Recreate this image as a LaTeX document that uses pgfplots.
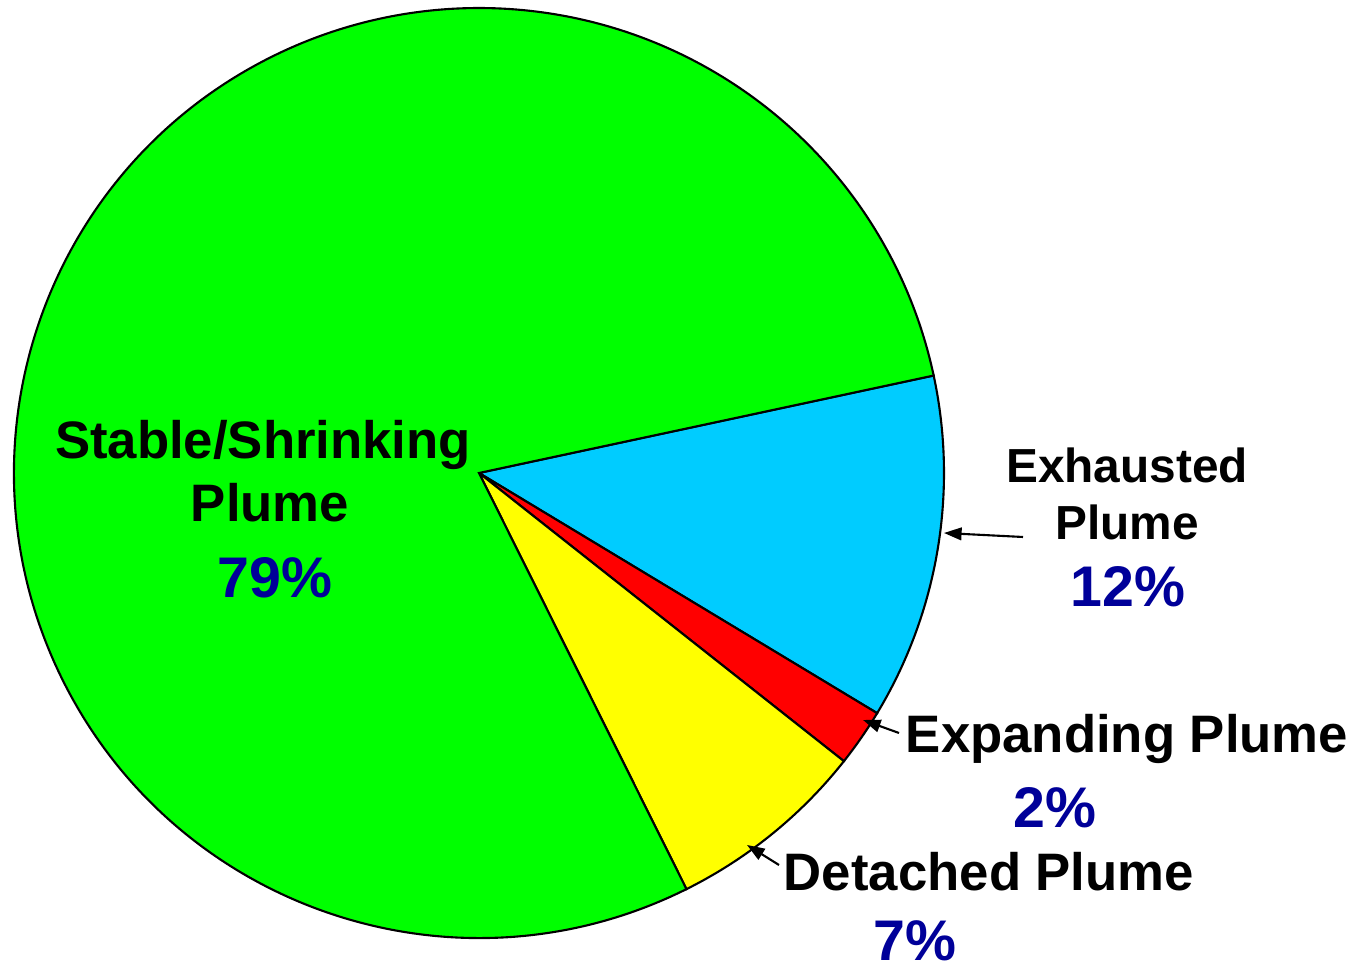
\documentclass[border=0pt]{standalone}
\usepackage{pgfplots}
\pgfplotsset{compat=1.18}
\usepackage{pgfplotstable}
\usetikzlibrary{arrows.meta}
\usepackage{fontspec}
\setmainfont{Liberation Sans}
\definecolor{cGreen}{RGB}{0,255,0}
\definecolor{cCyan}{RGB}{0,204,255}
\definecolor{cRed}{RGB}{255,0,0}
\definecolor{cYellow}{RGB}{255,255,0}
\definecolor{cNavy}{RGB}{0,0,153}
% pie shares (percent), clockwise from the start angle
\pgfplotstableread{
label value
Exhausted 12
Expanding 2
Detached 7
Stable 79
}\piedata
\pgfplotstablegetelem{0}{value}\of\piedata \let\vA\pgfplotsretval
\pgfplotstablegetelem{1}{value}\of\piedata \let\vB\pgfplotsretval
\pgfplotstablegetelem{2}{value}\of\piedata \let\vC\pgfplotsretval
\pgfplotstablegetelem{3}{value}\of\piedata \let\vD\pgfplotsretval
\pgfmathsetmacro\aZ{12.1}
\pgfmathsetmacro\aA{\aZ-3.6*\vA}
\pgfmathsetmacro\aB{\aA-3.6*\vB}
\pgfmathsetmacro\aC{\aB-3.6*\vC}
\pgfmathsetmacro\aD{\aC-3.6*\vD}
\def\R{4.65cm}
\newcommand{\lab}{\fontsize{15}{18}\selectfont\bfseries}
\newcommand{\labs}{\fontsize{13.6}{16}\selectfont\bfseries}
\newcommand{\pct}{\fontsize{16.3}{20}\selectfont\bfseries\color{cNavy}}
\begin{document}
\begin{tikzpicture}
\begin{axis}[width=13.6cm,height=9.67cm,scale only axis,hide axis,
  xmin=0,xmax=1360,ymin=0,ymax=967,clip=false]
\coordinate (ll) at (axis cs:0,0);
\coordinate (ur) at (axis cs:1360,967);
\coordinate (c) at (axis cs:479,494);
\filldraw[fill=cCyan,draw=black,line width=0.6pt] (c) -- ([shift={(\aZ:\R)}]c) arc[start angle=\aZ,end angle=\aA,radius=\R] -- cycle;
\filldraw[fill=cRed,draw=black,line width=0.6pt] (c) -- ([shift={(\aA:\R)}]c) arc[start angle=\aA,end angle=\aB,radius=\R] -- cycle;
\filldraw[fill=cYellow,draw=black,line width=0.6pt] (c) -- ([shift={(\aB:\R)}]c) arc[start angle=\aB,end angle=\aC,radius=\R] -- cycle;
\filldraw[fill=cGreen,draw=black,line width=0.6pt] (c) -- ([shift={(\aC:\R)}]c) arc[start angle=\aC,end angle=\aD,radius=\R] -- cycle;
% labels
\node[anchor=base,inner sep=0] at (axis cs:263,508) {\lab Stable/Shrinking};
\node[anchor=base,inner sep=0] at (axis cs:270,445) {\lab Plume};
\node[anchor=base,inner sep=0] at (axis cs:275,369) {\pct 79\%};
\node[anchor=base,inner sep=0] at (axis cs:1127,484) {\labs Exhausted};
\node[anchor=base,inner sep=0] at (axis cs:1127,427) {\labs Plume};
\node[anchor=base,inner sep=0] at (axis cs:1128,360) {\pct 12\%};
\node[anchor=base,inner sep=0] at (axis cs:1127,214) {\lab Expanding Plume};
\node[anchor=base,inner sep=0] at (axis cs:1055,139) {\pct 2\%};
\node[anchor=base,inner sep=0] at (axis cs:989,77) {\lab Detached Plume};
\node[anchor=base,inner sep=0] at (axis cs:915,7) {\pct 7\%};
% arrows
\draw[line width=0.6pt,-{Triangle[length=5pt,width=3.6pt]}] (axis cs:1023,430) -- (axis cs:944,434);
\draw[line width=0.6pt,-{Triangle[length=5pt,width=3.6pt]}] (axis cs:899,234) -- (axis cs:863,247);
\draw[line width=0.6pt,-{Triangle[length=5pt,width=3.6pt]}] (axis cs:779,102) -- (axis cs:747,122);
\end{axis}
\pgfresetboundingbox
\path (ll) rectangle (ur);
\end{tikzpicture}
\end{document}
